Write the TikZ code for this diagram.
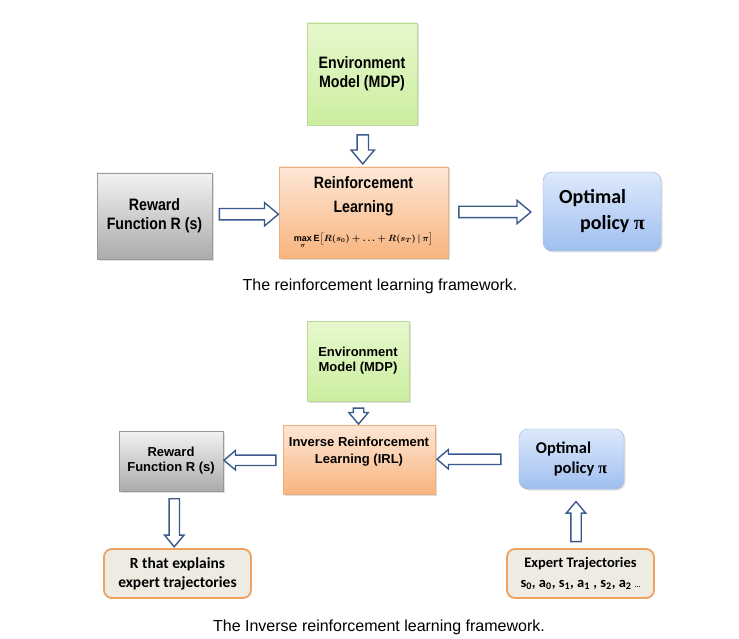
\documentclass[tikz,border=0pt]{standalone}
\usepackage{fontspec}
\setmainfont{Liberation Sans}
\newfontfamily\narrowfont[FakeStretch=0.86]{Liberation Sans}
\newfontfamily\calfont{Carlito}
\newfontfamily\pifont{Liberation Serif}
\usetikzlibrary{calc,positioning,shapes.arrows,shadows}

\definecolor{arrowblue}{HTML}{3B5A8C}
\definecolor{greytop}{HTML}{F2F2F2}
\definecolor{greybot}{HTML}{ABABAB}
\definecolor{greenTop}{HTML}{E6F8CC}
\definecolor{greenBot}{HTML}{CCEEA0}
\definecolor{orangeTop}{HTML}{FDE7D6}
\definecolor{orangeBot}{HTML}{F8B47E}
\definecolor{blueTop}{HTML}{DDE9FC}
\definecolor{blueBot}{HTML}{9FBFF0}
\definecolor{beige}{HTML}{EEEBE2}
\definecolor{trajorange}{HTML}{EFA260}

\tikzset{
  boxshadow/.style={drop shadow={shadow xshift=1.5pt,shadow yshift=-1.5pt,opacity=.25}},
  rewardbox/.style={draw=gray!80, top color=greytop, bottom color=greybot, boxshadow, align=center, inner sep=0pt},
  envbox/.style={draw=greenBot!80!gray, top color=greenTop, bottom color=greenBot, boxshadow, align=center, inner sep=0pt},
  learnbox/.style={draw=orangeBot!90!gray, top color=orangeTop, bottom color=orangeBot, boxshadow, align=center, inner sep=0pt},
  policybox/.style={draw=blueBot!80!gray, rounded corners=9pt, top color=blueTop, bottom color=blueBot, boxshadow, align=left, inner sep=0pt},
  trajbox/.style={draw=trajorange, line width=1.8pt, rounded corners=8pt, fill=beige, align=center, inner sep=0pt, font=\calfont\bfseries\fontsize{15.5}{19}\selectfont},
  blockarrow/.style={single arrow, draw=arrowblue, fill=white, line width=1.4pt, inner xsep=0pt, inner ysep=5pt, single arrow head extend=6pt, single arrow tip angle=80},
  smallarrow/.style={blockarrow, inner ysep=4.5pt, single arrow head extend=4.5pt},
  caption/.style={font=\fontsize{16}{19}\selectfont}
}

\begin{document}
\begin{tikzpicture}[x=1pt,y=-1pt]
\useasboundingbox (0,0) rectangle (739,639);
% reinforcement learning framework
\node [envbox, minimum width=110pt, minimum height=102pt, font=\narrowfont\bfseries\fontsize{16.5}{19}\selectfont] (env) at (362,74) {Environment\\Model (MDP)};
\node [learnbox, minimum width=169pt, minimum height=91pt, font=\narrowfont\bfseries\fontsize{16.5}{24}\selectfont] (rl) at (363.5,212.5)
  {Reinforcement\\Learning\\[5pt]{\fontsize{9}{11}\selectfont\boldmath$\max\limits_{\pi}\mathrm{E}\bigl[R(s_0)+\ldots+R(s_T)\,|\,\pi\bigr]$}};
\node [rewardbox, minimum width=115pt, minimum height=86pt, font=\narrowfont\bfseries\fontsize{16.5}{19}\selectfont] (rew) at (154.5,216) {Reward\\Function R (s)};
\node [policybox, minimum width=118pt, minimum height=79pt, font=\calfont\bfseries\fontsize{20}{26}\selectfont] (opt) at (602,211.5) {Optimal\\\hspace{21pt}policy {\pifont π}};
\node [blockarrow, minimum height=29pt, rotate=-90] (envrl) at ($(env.south)!0.5!(rl.north)$) {};
\node [blockarrow, minimum height=59pt] (rewrl) at ($(rew.east)!0.5!(rl.west)$) {};
\node [blockarrow, minimum height=72pt, xshift=-4pt] (rlopt) at ($(rl.east)!0.5!(opt.west)$) {};
\node [caption] (capa) at (380,286) {The reinforcement learning framework.};
% inverse reinforcement learning framework
\node [envbox, minimum width=102pt, minimum height=80pt, font=\bfseries\fontsize{13}{15}\selectfont] (envinv) at (358,361) {Environment\\Model (MDP)};
\node [learnbox, minimum width=152pt, minimum height=69pt] (irl) at (359,459.5) {};
\node [font=\bfseries\fontsize{13}{17}\selectfont, align=center] (irltext) at ([yshift=8pt]irl.center) {Inverse Reinforcement\\Learning (IRL)};
\node [rewardbox, minimum width=104pt, minimum height=60pt, font=\bfseries\fontsize{13}{15}\selectfont] (rewinv) at (171,461) {Reward\\Function R (s)};
\node [policybox, minimum width=105pt, minimum height=60pt, font=\calfont\bfseries\fontsize{16.5}{20}\selectfont] (optinv) at (571.5,459) {Optimal\\\hspace{18pt}policy {\pifont π}};
\node [trajbox, minimum width=147pt, minimum height=49pt] (rexpl) at (177.5,573.5) {R that explains\\expert trajectories};
\node [trajbox, minimum width=147pt, minimum height=49pt, font=\calfont\bfseries\fontsize{14.5}{20}\selectfont] (traj) at (580.5,573.5)
  {Expert Trajectories\\s\textsubscript{0}, a\textsubscript{0}, s\textsubscript{1}, a\textsubscript{1} , s\textsubscript{2}, a\textsubscript{2} {\fontsize{7}{8}\selectfont...}};
\node [smallarrow, minimum height=16pt, rotate=-90] (envirl) at ($(envinv.south)!0.5!(irl.north)$) {};
\node [smallarrow, minimum height=52pt, rotate=180] (irlrew) at ($(irl.west)!0.5!(rewinv.east)$) {};
\node [smallarrow, minimum height=64pt, rotate=180, xshift=5pt] (optirl) at ($(optinv.west)!0.5!(irl.east)$) {};
\node [smallarrow, minimum height=48pt, rotate=-90] (rewexpl) at ($(rewinv.south)!0.5!(rexpl.north)$) {};
\node [smallarrow, minimum height=40pt, rotate=90, xshift=-6pt] (trajopt) at ($(traj.north)!0.5!(optinv.south)$) {};
\node [caption] (capb) at (379,627) {The Inverse reinforcement learning framework.};
\end{tikzpicture}
\end{document}
